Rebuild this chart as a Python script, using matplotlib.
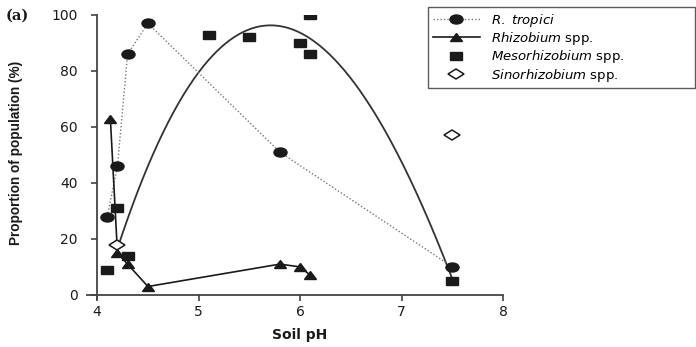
import matplotlib
matplotlib.use("Agg")
import matplotlib.pyplot as plt
from matplotlib.markers import MarkerStyle
from matplotlib.transforms import Affine2D
import numpy as np

# values
tropici_ph = [4.1, 4.2, 4.3, 4.5, 5.8, 7.5]
tropici_pct = [28, 46, 86, 97, 51, 10]

rhizo_ph = [4.13, 4.2, 4.3, 4.5, 5.8, 6.0, 6.1]
rhizo_pct = [63, 15, 11, 3, 11, 10, 7]

meso_ph = [4.1, 4.2, 4.3, 5.1, 5.5, 6.0, 6.1, 6.1, 7.5]
meso_pct = [9, 31, 14, 93, 92, 90, 100, 86, 5]

sino_ph = [4.2, 7.5]
sino_pct = [18, 57]

# points picked along the fitted curve
curve_ph = [4.2, 4.5, 4.82, 4.985, 5.34, 5.69, 6.0, 6.33, 6.79, 7.11, 7.43, 7.5]
curve_pct = [18, 43, 70, 80, 92, 97, 93, 84, 61, 40, 12.5, 5]

x_ticks = [4, 5, 6, 7, 8]
y_ticks = [0, 20, 40, 60, 80, 100]

plt.rcParams["font.family"] = "DejaVu Sans"
plt.rcParams["mathtext.fontset"] = "custom"
plt.rcParams["mathtext.it"] = "DejaVu Sans:italic"
plt.rcParams["mathtext.rm"] = "DejaVu Sans"

ink = "#1a1a1a"
wide = Affine2D().scale(1.45, 1.0)
wider = Affine2D().scale(1.6, 1.0)

fig = plt.figure(figsize=(6.96, 3.47), dpi=100)
ax = fig.add_axes([0.125, 0.138, 0.598, 0.819])

# fitted curve
coef = np.polyfit(curve_ph, curve_pct, 3)
xs = np.linspace(curve_ph[0], curve_ph[-1], 200)
ax.plot(xs, np.polyval(coef, xs), color="#333333", lw=1.3, zorder=2)

ax.plot(tropici_ph, tropici_pct, ls=(0, (1, 1.5)), color="#777777", lw=1.0,
        marker=MarkerStyle("o", transform=wide), ms=6.5, mfc=ink, mec=ink,
        label=r"$\it{R.}$ $\it{tropici}$", zorder=3)
ax.plot(rhizo_ph, rhizo_pct, ls="-", color=ink, lw=1.2,
        marker=MarkerStyle("^", transform=wide), ms=5.8, mfc=ink, mec=ink,
        label=r"$\it{Rhizobium}$ spp.", zorder=3)
ax.plot(meso_ph, meso_pct, ls="none",
        marker=MarkerStyle("s", transform=wide), ms=6.3, mfc=ink, mec=ink,
        label=r"$\it{Mesorhizobium}$ spp.", zorder=4)
ax.plot(sino_ph, sino_pct, ls="none",
        marker=MarkerStyle("D", transform=wider), ms=4.8, mfc="white", mec=ink, mew=1.1,
        label=r"$\it{Sinorhizobium}$ spp.", zorder=5)

ax.set_xlim(3.9, 8.0)
ax.set_ylim(-1.5, 100)
ax.spines["left"].set_position(("data", 4))
ax.spines["bottom"].set_position(("data", 0))
ax.spines["top"].set_visible(False)
ax.spines["right"].set_visible(False)
for s in ("left", "bottom"):
    ax.spines[s].set_color("#444444")
    ax.spines[s].set_linewidth(1.3)
ax.set_xticks(x_ticks)
ax.set_yticks(y_ticks)
ax.tick_params(axis="both", direction="out", length=4, width=1.2, color="#444444",
               labelsize=10, labelcolor=ink)
ax.tick_params(axis="x", pad=3)
ax.tick_params(axis="y", pad=10)

fig.text(300 / 696, 1 - 335 / 347, "Soil pH", ha="center", va="center",
         fontsize=10, fontweight="bold", color=ink)
fig.text(16 / 696, 1 - 153 / 347, "Proportion of population (%)", rotation=90,
         ha="center", va="center", fontsize=9.8, fontweight="bold",
         family="Liberation Sans", color=ink)
fig.text(6 / 696, 1 - 16 / 347, "(a)", ha="left", va="center", fontsize=10.5,
         fontweight="bold", family="DejaVu Serif", color=ink)

leg = fig.legend(loc="upper left",
                 bbox_to_anchor=(428 / 696, 1 - 87 / 347, 267 / 696, 80 / 347),
                 mode="expand", fontsize=9.5, frameon=True, fancybox=False,
                 edgecolor="#333333", handlelength=3.6, handletextpad=0.8,
                 labelspacing=0.1, borderpad=0.35, borderaxespad=0)
leg.get_frame().set_linewidth(1.0)

fig.savefig("out.png", dpi=100)
